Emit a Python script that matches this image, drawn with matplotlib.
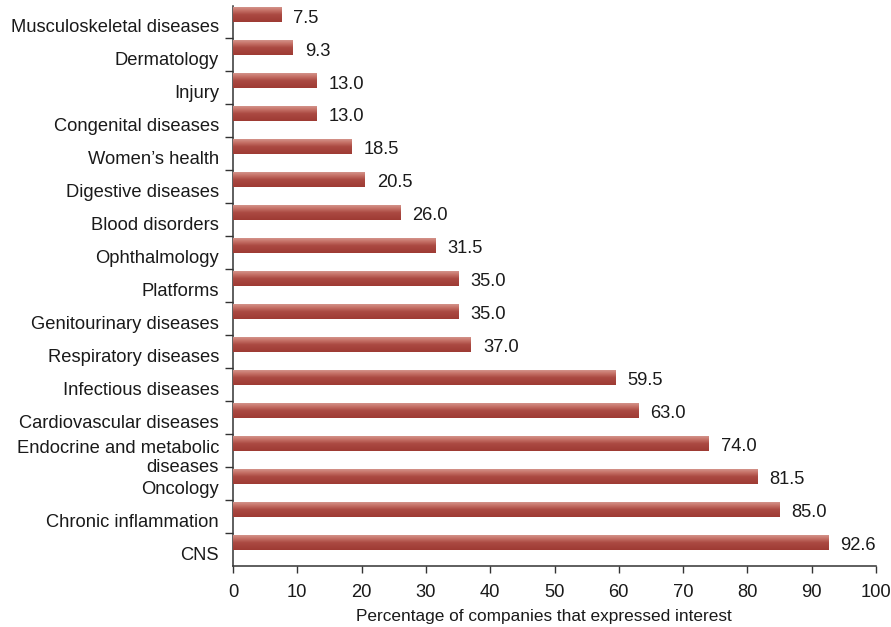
import numpy as np
import matplotlib
matplotlib.use("Agg")
import matplotlib.pyplot as plt
import matplotlib.transforms as mtransforms
from matplotlib.colors import LinearSegmentedColormap

plt.rcParams['font.family'] = ['Liberation Sans', 'DejaVu Sans']

# Therapeutic areas, listed bottom to top
categories = [
    "CNS",
    "Chronic inflammation",
    "Oncology",
    "Endocrine and metabolic\ndiseases",
    "Cardiovascular diseases",
    "Infectious diseases",
    "Respiratory diseases",
    "Genitourinary diseases",
    "Platforms",
    "Ophthalmology",
    "Blood disorders",
    "Digestive diseases",
    "Women\u2019s health",
    "Congenital diseases",
    "Injury",
    "Dermatology",
    "Musculoskeletal diseases",
]
values = [92.6, 85.0, 81.5, 74.0, 63.0, 59.5, 37.0, 35.0, 35.0, 31.5,
          26.0, 20.5, 18.5, 13.0, 13.0, 9.3, 7.5]
x_ticks = [0, 10, 20, 30, 40, 50, 60, 70, 80, 90, 100]
x_label = "Percentage of companies that expressed interest"

W, H = 891, 627
fig = plt.figure(figsize=(W / 100, H / 100), dpi=100)
ax = fig.add_axes([233 / W, 1 - 566 / H, (876 - 233) / W, (566 - 5.5) / H])

n = len(categories)
pos = np.arange(n)
bar_h = 0.43
bar_off = 0.21
fs = 13.2

# Shaded bar fill: light top edge fading into a deep brick red
shade = LinearSegmentedColormap.from_list(
    "brick", [(0.0, "#d3938a"), (0.18, "#c9776d"), (0.5, "#ab4a42"), (1.0, "#9e3b34")])
grad = np.linspace(0, 1, 64).reshape(-1, 1)

bars = ax.barh(pos + bar_off, values, height=bar_h, color="#a8443c", zorder=2)
for b in bars:
    x0, y0 = b.get_x(), b.get_y()
    w, h = b.get_width(), b.get_height()
    ax.imshow(grad, cmap=shade, aspect="auto", origin="upper",
              extent=(x0, x0 + w, y0, y0 + h), zorder=3, interpolation="bilinear")

for y, v in zip(pos, values):
    ax.annotate(f"{v:.1f}", xy=(v, y + bar_off), xytext=(12, -3),
                textcoords="offset pixels",
                ha="left", va="center", fontsize=fs, color="#1a1a1a")

ax.set_xlim(0, 100)
ax.set_ylim(-0.5, n - 0.5)
ax.set_xticks(x_ticks)
ax.set_xticklabels([str(t) for t in x_ticks], fontsize=fs, color="#1a1a1a")

ax.set_yticks(pos)
ax.set_yticklabels(categories, fontsize=fs, color="#1a1a1a", linespacing=1.15)
ax.set_yticks(pos[:-1] + 0.5, minor=True)
ax.tick_params(axis="y", which="major", length=0, pad=10)
ax.tick_params(axis="y", which="minor", length=6, width=1, color="#333333", direction="out")
ax.tick_params(axis="x", length=5, width=1, color="#333333", direction="out", pad=8)

# nudge category labels slightly below their band centres
shift = mtransforms.ScaledTranslation(0, -4 / 100, fig.dpi_scale_trans)
for lbl in ax.get_yticklabels():
    lbl.set_transform(lbl.get_transform() + shift)

for s in ("top", "right"):
    ax.spines[s].set_visible(False)
for s in ("left", "bottom"):
    ax.spines[s].set_color("#333333")
    ax.spines[s].set_linewidth(1.1)

fig.text(544 / W, 1 - 616 / H, x_label, ha="center", va="center",
         fontsize=12.4, color="#1a1a1a")

fig.savefig("out.png", dpi=100)
